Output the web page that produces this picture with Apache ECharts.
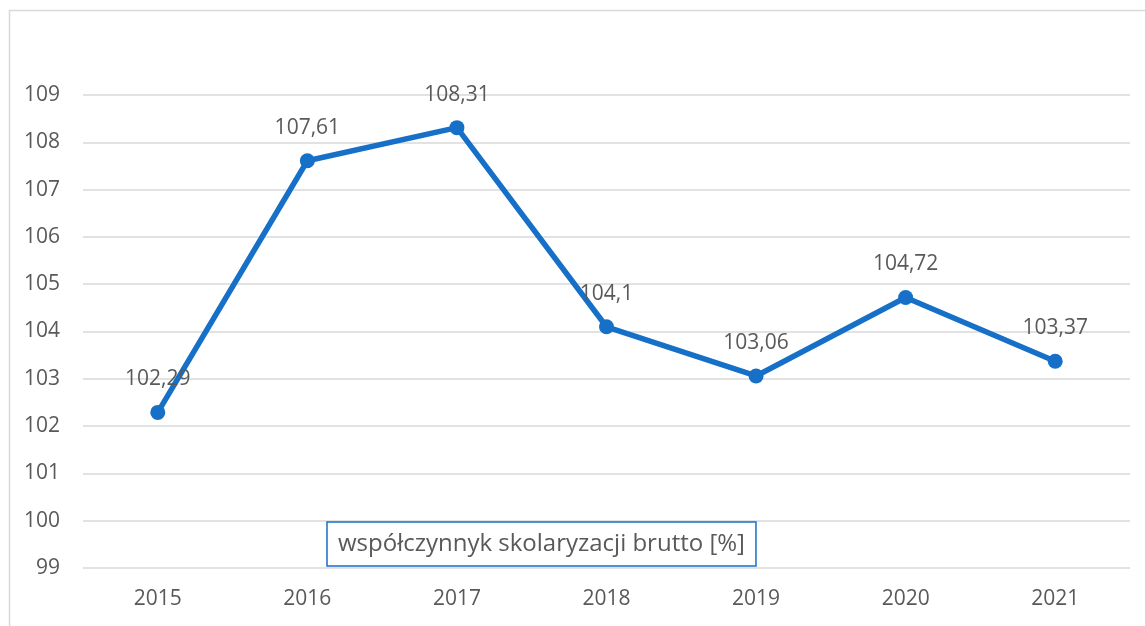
<!DOCTYPE html>
<html>
<head>
<meta charset="utf-8">
<script src="https://cdn.jsdelivr.net/npm/echarts@6/dist/echarts.min.js"></script>
<style>
  html, body { margin: 0; padding: 0; background: #fff; }
  #chart { width: 1145px; height: 626px; }
</style>
</head>
<body>
<div id="chart"></div>
<script>
// data
const years = ['2015', '2016', '2017', '2018', '2019', '2020', '2021']
const rates = [102.29, 107.61, 108.31, 104.1, 103.06, 104.72, 103.37]
const seriesName = 'współczynnyk skolaryzacji brutto [%]'

const blue = '#1670c8'
const textGray = '#595959'
const font = '"Open Sans", "Noto Sans", sans-serif'

const chart = echarts.init(document.getElementById('chart'))

chart.setOption({
  animation: false,
  textStyle: { fontFamily: font },
  graphic: [{
    type: 'rect',
    left: 7,
    top: 8,
    shape: { width: 1160, height: 640 },
    style: { fill: 'none', stroke: '#d9d9d9', lineWidth: 1.5 },
    silent: true
  }],
  grid: {
    left: 83,
    right: 15,
    top: 95,
    bottom: 58
  },
  legend: {
    left: 327,
    top: 522,
    icon: 'none',
    itemWidth: 0,
    itemGap: 0,
    padding: [10, 11, 10, 6],
    borderColor: blue,
    borderWidth: 1.5,
    textStyle: { fontSize: 24, color: textGray, fontFamily: font },
    data: [seriesName]
  },
  xAxis: {
    type: 'category',
    data: years,
    boundaryGap: true,
    axisLine: { show: false },
    axisTick: { show: false },
    axisLabel: { fontSize: 21, color: textGray, margin: 21 }
  },
  yAxis: {
    type: 'value',
    min: 99,
    max: 109,
    interval: 1,
    axisLine: { show: false },
    axisTick: { show: false },
    axisLabel: { fontSize: 21, color: textGray, margin: 23 },
    splitLine: { lineStyle: { color: '#d9d9d9', width: 1.5 } }
  },
  series: [{
    name: seriesName,
    type: 'line',
    data: rates,
    symbol: 'circle',
    symbolSize: 15,
    lineStyle: { width: 5.5, color: blue },
    itemStyle: { color: blue },
    label: {
      show: true,
      position: 'top',
      distance: 15,
      fontSize: 21,
      color: textGray,
      formatter: p => String(p.value).replace('.', ',')
    }
  }]
})
</script>
</body>
</html>
